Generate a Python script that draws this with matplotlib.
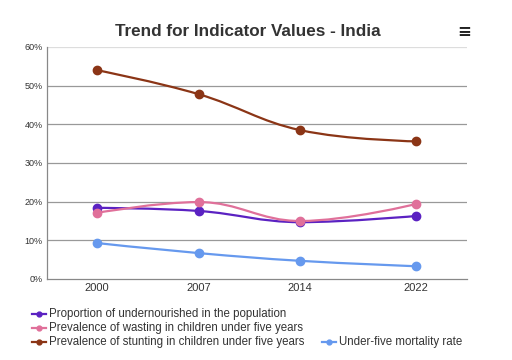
import numpy as np
import matplotlib
matplotlib.use("Agg")
import matplotlib.pyplot as plt
from matplotlib.path import Path
from matplotlib.patches import PathPatch
from matplotlib.lines import Line2D

plt.rcParams["font.family"] = ["Liberation Sans", "DejaVu Sans"]

years = [2000, 2007, 2014, 2022]
undernourished = [18.4, 17.6, 14.7, 16.3]
wasting = [17.1, 19.9, 15.0, 19.4]
stunting = [54.0, 47.8, 38.5, 35.6]
mortality = [9.3, 6.7, 4.7, 3.3]

series_names = [
    "Proportion of undernourished in the population",
    "Prevalence of wasting in children under five years",
    "Prevalence of stunting in children under five years",
    "Under-five mortality rate",
]
series_values = [undernourished, wasting, stunting, mortality]
colors = ["#5b22c2", "#e0709a", "#8b3516", "#6699ee"]
y_ticks = [0, 10, 20, 30, 40, 50, 60]
y_labels = ["0%", "10%", "20%", "30%", "40%", "50%", "60%"]


def spline_path(xs, ys, smoothing=1.5):
    xs = list(map(float, xs)); ys = list(map(float, ys))
    n = len(xs)
    verts = [(xs[0], ys[0])]
    codes = [Path.MOVETO]
    ctrl = []
    for i in range(n):
        if i == 0 or i == n - 1:
            ctrl.append(((xs[i], ys[i]), (xs[i], ys[i])))
            continue
        denom = smoothing + 1
        lx = (smoothing * xs[i] + xs[i - 1]) / denom
        ly = (smoothing * ys[i] + ys[i - 1]) / denom
        rx = (smoothing * xs[i] + xs[i + 1]) / denom
        ry = (smoothing * ys[i] + ys[i + 1]) / denom
        if rx != lx:
            corr = (ry - ly) * (rx - xs[i]) / (rx - lx) + ys[i] - ry
            ly += corr
            ry += corr
        if ly > max(ys[i - 1], ys[i]):
            ly = max(ys[i - 1], ys[i]); ry = 2 * ys[i] - ly
        elif ly < min(ys[i - 1], ys[i]):
            ly = min(ys[i - 1], ys[i]); ry = 2 * ys[i] - ly
        if ry > max(ys[i], ys[i + 1]):
            ry = max(ys[i], ys[i + 1]); ly = 2 * ys[i] - ry
        elif ry < min(ys[i], ys[i + 1]):
            ry = min(ys[i], ys[i + 1]); ly = 2 * ys[i] - ry
        ctrl.append(((lx, ly), (rx, ry)))
    for i in range(1, n):
        verts += [ctrl[i - 1][1], ctrl[i][0], (xs[i], ys[i])]
        codes += [Path.CURVE4] * 3
    return Path(verts, codes)


W, H = 512, 360
fig = plt.figure(figsize=(W / 100, H / 100), dpi=100)
ax = fig.add_axes([47 / W, 1 - 279 / H, (467 - 47) / W, (279 - 47) / H])
ax.set_xlim(1996.55, 2025.5)
ax.set_ylim(0, 60)

for t in y_ticks[1:]:
    ax.axhline(t, color="#dddddd" if t == 60 else "#999999", lw=0.9, zorder=1)

for name, vals, c in zip(series_names, series_values, colors):
    p = spline_path(years, vals)
    ax.add_patch(PathPatch(p, facecolor="none", edgecolor=c, lw=1.6, zorder=3))
    ax.plot(years, vals, "o", color=c, ms=6, zorder=4, lw=0)

for s in ["top", "right"]:
    ax.spines[s].set_visible(False)
ax.spines["left"].set_color("#888888")
ax.spines["bottom"].set_color("#888888")
ax.spines["left"].set_linewidth(0.9)
ax.spines["bottom"].set_linewidth(0.9)
ax.set_yticks(y_ticks)
ax.set_yticklabels(y_labels, fontsize=6.5, color="#333333")
ax.set_xticks(years)
ax.set_xticklabels([str(y) for y in years], fontsize=8, color="#333333")
ax.tick_params(axis="both", length=0, pad=3)

fig.text(248 / W, 1 - 31 / H, "Trend for Indicator Values - India", ha="center", va="center",
         fontsize=12.3, fontweight="bold", color="#333333")
fig.text(464 / W, 1 - 32 / H, "\u2261", ha="center", va="center", fontsize=12,
         fontweight="bold", color="#222222", family="DejaVu Sans")

legend_pos = [(32, 314), (32, 328), (32, 342), (322, 342)]
for (lx, ly), name, c in zip(legend_pos, series_names, colors):
    fig.add_artist(Line2D([lx / W, (lx + 14) / W], [1 - ly / H, 1 - ly / H], color=c, lw=1.6,
                          transform=fig.transFigure))
    fig.add_artist(Line2D([(lx + 7) / W], [1 - ly / H], marker="o", ms=3.5, color=c,
                          transform=fig.transFigure))
    fig.text((lx + 17) / W, 1 - ly / H, name, ha="left", va="center", fontsize=8.3,
             color="#333333")

fig.savefig("out.png", dpi=100)
